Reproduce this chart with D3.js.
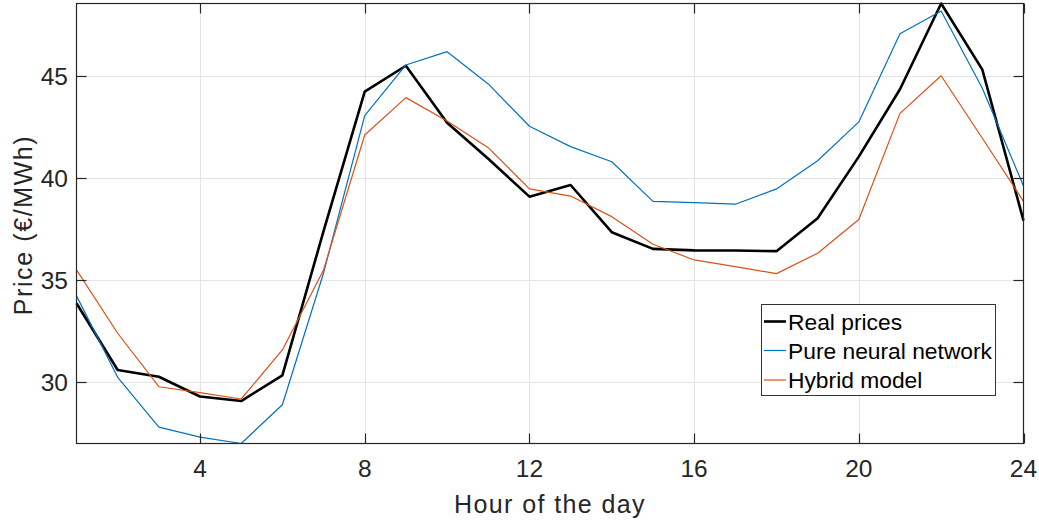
<!DOCTYPE html>
<html>
<head>
<meta charset="utf-8">
<script src="https://cdn.jsdelivr.net/npm/d3@7"></script>
<style>
  body { margin: 0; background: #fff; }
  svg { display: block; font-family: "Liberation Sans", Arial, sans-serif; }
</style>
</head>
<body>
<div id="chart"></div>
<script>
const hours = d3.range(1, 25);
const realPrices = [33.87, 30.60, 30.27, 29.30, 29.08, 30.34, 37.4, 44.23, 45.50, 42.71, 40.95, 39.09,
  39.66, 37.35, 36.53, 36.46, 36.45, 36.42, 38.03, 41.05, 44.35, 48.55, 45.31, 37.92];
const pureNN = [34.23, 30.24, 27.80, 27.31, 27.0, 28.90, 35.35, 43.06, 45.54, 46.19, 44.61, 42.54,
  41.54, 40.80, 38.86, 38.80, 38.72, 39.47, 40.85, 42.75, 47.07, 48.18, 44.40, 39.61];
const hybrid = [35.50, 32.40, 29.78, 29.49, 29.18, 31.58, 35.5, 42.11, 43.94, 42.80, 41.49, 39.47,
  39.12, 38.11, 36.76, 35.99, 35.66, 35.32, 36.32, 37.97, 43.17, 45.01, 41.95, 38.86];
const seriesNames = ['Real prices', 'Pure neural network', 'Hybrid model'];
const xTicks = [4, 8, 12, 16, 20, 24];
const yTicks = [30, 35, 40, 45];

const width = 1039, height = 525;
const plotL = 76.5, plotR = 1023.5, plotT = 3.5, plotB = 443.5;
const axisColor = '#262626';

const series = [
  { name: seriesNames[0], values: realPrices, color: '#000000', width: 2.6 },
  { name: seriesNames[1], values: pureNN, color: '#0072BD', width: 1.2 },
  { name: seriesNames[2], values: hybrid, color: '#D95319', width: 1.2 },
];

const svg = d3.select('#chart').append('svg')
  .attr('width', width).attr('height', height);

const x = d3.scaleLinear().domain([1, 24]).range([plotL, plotR]);
const y = d3.scaleLinear()
  .domain(d3.extent([...realPrices, ...pureNN, ...hybrid]))
  .range([plotB, plotT]);

// grid
const grid = svg.append('g').attr('stroke', '#e4e4e4').attr('stroke-width', 1);
grid.selectAll('line.gx').data(xTicks.filter(d => d < 24)).join('line')
  .attr('x1', d => Math.round(x(d)) + 0.5).attr('x2', d => Math.round(x(d)) + 0.5)
  .attr('y1', plotT).attr('y2', plotB);
grid.selectAll('line.gy').data(yTicks).join('line')
  .attr('y1', d => Math.round(y(d)) + 0.5).attr('y2', d => Math.round(y(d)) + 0.5)
  .attr('x1', plotL).attr('x2', plotR);

// lines
const line = d3.line().x((d, i) => x(hours[i])).y(d => y(d));
const plot = svg.append('g');
plot.selectAll('path').data(series).join('path')
  .attr('fill', 'none')
  .attr('stroke', d => d.color)
  .attr('stroke-width', d => d.width)
  .attr('stroke-linejoin', 'round')
  .attr('d', d => line(d.values));

// axes box and inner ticks
const ax = svg.append('g').attr('stroke', axisColor).attr('stroke-width', 1.2).attr('fill', 'none');
ax.append('rect').attr('x', plotL).attr('y', plotT)
  .attr('width', plotR - plotL).attr('height', plotB - plotT);
const tl = 10;
xTicks.forEach(t => {
  const px = Math.round(x(t)) + 0.5;
  ax.append('line').attr('x1', px).attr('x2', px).attr('y1', plotB).attr('y2', plotB - tl);
  ax.append('line').attr('x1', px).attr('x2', px).attr('y1', plotT).attr('y2', plotT + tl);
});
yTicks.forEach(t => {
  const py = Math.round(y(t)) + 0.5;
  ax.append('line').attr('y1', py).attr('y2', py).attr('x1', plotL).attr('x2', plotL + tl);
  ax.append('line').attr('y1', py).attr('y2', py).attr('x1', plotR).attr('x2', plotR - tl);
});

// tick labels
svg.append('g').selectAll('text').data(xTicks).join('text')
  .attr('x', d => x(d)).attr('y', 477)
  .attr('text-anchor', 'middle').attr('fill', axisColor).attr('font-size', 24.5)
  .text(d => d);
svg.append('g').selectAll('text').data(yTicks).join('text')
  .attr('x', 68).attr('y', d => y(d)).attr('dy', '0.36em')
  .attr('text-anchor', 'end').attr('fill', axisColor).attr('font-size', 24.5)
  .text(d => d);

// axis labels
svg.append('text')
  .attr('x', (plotL + plotR) / 2).attr('y', 513)
  .attr('text-anchor', 'middle').attr('fill', axisColor).attr('font-size', 25)
  .attr('letter-spacing', 1.4)
  .text('Hour of the day');
svg.append('text')
  .attr('transform', `translate(32,225) rotate(-90)`)
  .attr('text-anchor', 'middle').attr('fill', axisColor).attr('font-size', 25)
  .attr('letter-spacing', 1.6)
  .text('Price (€/MWh)');

// legend
const lg = svg.append('g');
lg.append('rect').attr('x', 761.5).attr('y', 304.5).attr('width', 234).attr('height', 91)
  .attr('fill', '#fff').attr('stroke', '#333').attr('stroke-width', 1);
const rowY = [321.5, 350.5, 380];
const rows = lg.selectAll('g.row').data(series).join('g')
  .attr('transform', (d, i) => `translate(0,${rowY[i]})`);
rows.append('line').attr('x1', 764).attr('x2', 786)
  .attr('stroke', d => d.color).attr('stroke-width', d => d.width);
rows.append('text').attr('x', 788).attr('dy', '0.36em')
  .attr('font-size', 22.8).attr('fill', '#000')
  .text(d => d.name);
</script>
</body>
</html>
